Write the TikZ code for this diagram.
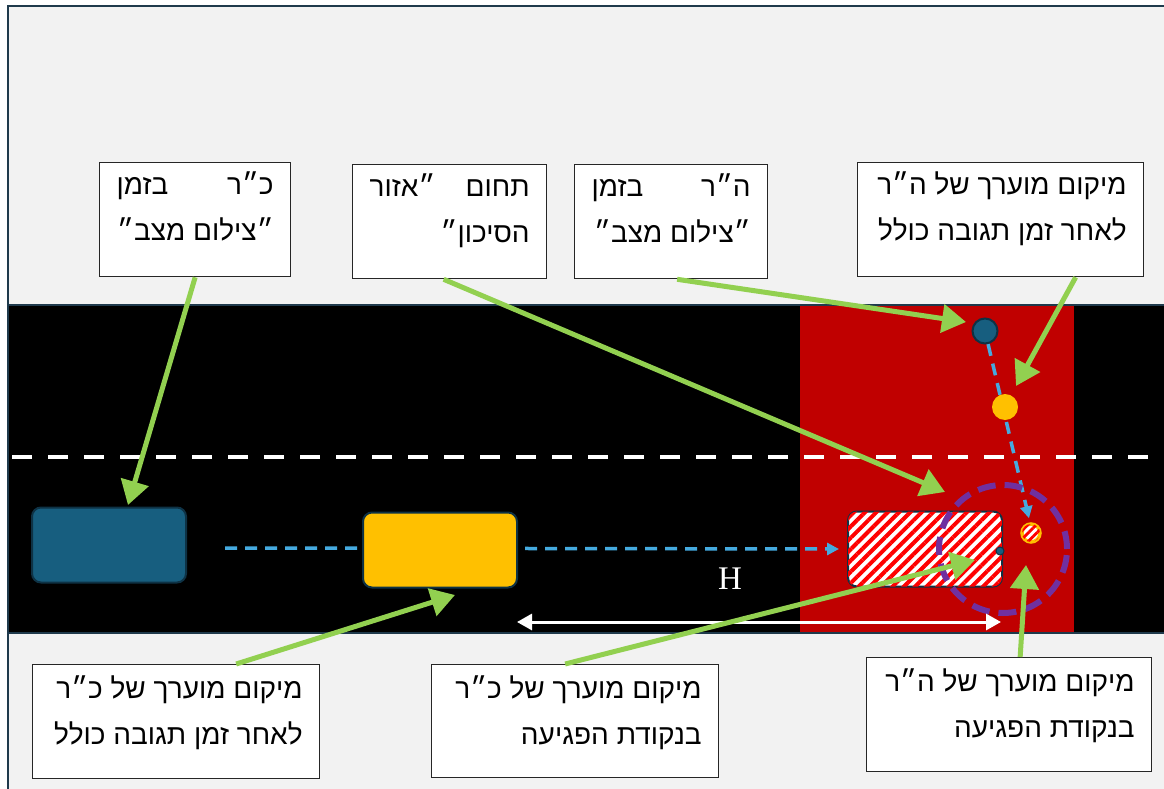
\documentclass[tikz,border=0pt]{standalone}
\usepackage{fontspec}
\setmainfont{Liberation Sans}
\newfontfamily\heb[Script=Hebrew]{Liberation Sans}
\newfontfamily\serifH{Liberation Serif}
\TeXXeTstate=1
\usetikzlibrary{arrows.meta,patterns.meta,calc}
\definecolor{bg}{HTML}{F2F2F2}
\definecolor{frame}{HTML}{1F3A4C}
\definecolor{carblue}{HTML}{175E7F}
\definecolor{cardark}{HTML}{0E3245}
\definecolor{caryel}{HTML}{FFC000}
\definecolor{redz}{HTML}{C00000}
\definecolor{grn}{HTML}{92D050}
\definecolor{lblue}{HTML}{45AADF}
\definecolor{purp}{HTML}{7030A0}
\newcommand\rl[1]{\hbox to\linewidth{\hfill\beginR #1\endR}}
\newcommand\jl[2]{\hbox to\linewidth{\beginR #1\hfill #2\endR}}
\newcommand\tfont{\heb\fontsize{28}{46}\selectfont}
\begin{document}
\begin{tikzpicture}[x=1pt,y=-1pt,
  tbox/.style={draw=black!85, line width=1.3pt, fill=white, inner xsep=17pt, inner ysep=0pt, anchor=north west},
  garrow/.style={draw=grn, line width=5pt, -{Triangle[length=24pt,width=28pt]}},
  car/.style={draw=cardark, line width=2pt, rounded corners=9pt, inner sep=0pt, minimum width=154pt, minimum height=75pt},
  barrow/.style={draw=lblue, line width=3.5pt, dash pattern=on 12pt off 8pt, -{Triangle[length=12pt,width=12pt]}}]
\useasboundingbox (0,0) rectangle (1164,789);
\fill[white] (0,0) rectangle (1164,789);
% frame and road
\draw[fill=bg, draw=frame, line width=2pt] (8,6) rectangle (1180,800);
\draw[fill=black, draw=frame, line width=1.5pt] (8,305) rectangle (1180,633);
\fill[redz] (800,306) rectangle (1074,632);
\draw[white, line width=3.5pt, dash pattern=on 20pt off 16pt] (12,457) -- (1170,457);
% cars
\node[car, fill=carblue] (car1) at (109,545) {};
\coordinate (bs) at (225,548);
\node[car, fill=white, postaction={pattern={Lines[angle=45,distance=8pt,line width=4pt]}, pattern color=red}] (car3) at (925,549) {};
\draw[barrow] (bs) -- ([xshift=-8pt]car3.west);
\node[car, fill=caryel] (car2) at (440,550) {};
\node[circle, draw=cardark, fill=carblue, line width=1pt, inner sep=0pt, minimum size=8pt] (dot) at (1000,551) {};
% pedestrian
\node[circle, draw=cardark, fill=carblue, line width=2pt, inner sep=0pt, minimum size=25pt] (ped1) at (985,331) {};
\node[circle, inner sep=0pt, minimum size=25pt] (ped2) at (1005,407) {};
\node[circle, draw=caryel, line width=3.5pt, fill=white, postaction={pattern={Lines[angle=45,distance=6pt,line width=2.8pt]}, pattern color=red}, inner sep=0pt, minimum size=18pt] (ped3) at (1031,533) {};
\draw[barrow] (ped1) -- ([xshift=-2pt,yshift=4pt]ped3.north);
\node[circle, fill=caryel, inner sep=0pt, minimum size=26pt] at (ped2) {};
% danger circle
\draw[purp, line width=6pt, dash pattern=on 18pt off 9pt] (1003,549) circle[radius=64pt];
% H distance
\coordinate (hl) at (517,622);
\coordinate (hr) at (1001,622);
\draw[white, line width=3pt, {Triangle[length=15pt,width=16pt]}-{Triangle[length=15pt,width=16pt]}] (hl) -- (hr);
\node[white, font=\serifH\fontsize{33}{33}\selectfont, inner sep=0pt] (H) at (730,579) {H};
% boxes
\node[tbox] (b1) at (99,162) {\parbox[c][114pt][t]{157pt}{\tfont\jl{\rule{0pt}{32pt}כ״ר}{בזמן}\rl{״צילום מצב״}}};
\node[tbox] (b2) at (352,164) {\parbox[c][114pt][t]{160pt}{\tfont\jl{\rule{0pt}{32pt}תחום}{״אזור}\rl{הסיכון״}}};
\node[tbox] (b3) at (574,164) {\parbox[c][114pt][t]{159pt}{\tfont\jl{\rule{0pt}{32pt}ה״ר}{בזמן}\rl{״צילום מצב״}}};
\node[tbox] (b4) at (857,162) {\parbox[c][114pt][t]{252pt}{\tfont\rl{\rule{0pt}{32pt}מיקום מוערך של ה״ר}\rl{לאחר זמן תגובה כולל}}};
\node[tbox] (c1) at (32,664) {\parbox[c][114pt][t]{253pt}{\tfont\rl{\rule{0pt}{34pt}מיקום מוערך של כ״ר}\rl{לאחר זמן תגובה כולל}}};
\node[tbox] (c2) at (431,664) {\parbox[c][113pt][t]{253pt}{\tfont\rl{\rule{0pt}{34pt}מיקום מוערך של כ״ר}\rl{בנקודת הפגיעה}}};
\node[tbox] (c3) at (866,657) {\parbox[c][114pt][t]{251pt}{\tfont\rl{\rule{0pt}{34pt}מיקום מוערך של ה״ר}\rl{בנקודת הפגיעה}}};
% green arrows
\coordinate (t1) at (128,505);
\coordinate (t2) at (945,492);
\coordinate (t3) at (966,322);
\coordinate (t4) at (1016,386);
\coordinate (t5) at (455,595);
\coordinate (t6) at (975,560);
\coordinate (t7) at (1026,565);
\draw[garrow] (b1.south) -- (t1);
\draw[garrow] ([xshift=-6pt]b2.south) -- (t2);
\draw[garrow] ([xshift=6pt]b3.south) -- (t3);
\draw[garrow] ([xshift=75pt]b4.south) -- (t4);
\draw[garrow] ([xshift=60pt]c1.north) -- (t5);
\draw[garrow] ([xshift=-10pt]c2.north) -- (t6);
\draw[garrow] ([xshift=11pt]c3.north) -- (t7);
\end{tikzpicture}
\end{document}
